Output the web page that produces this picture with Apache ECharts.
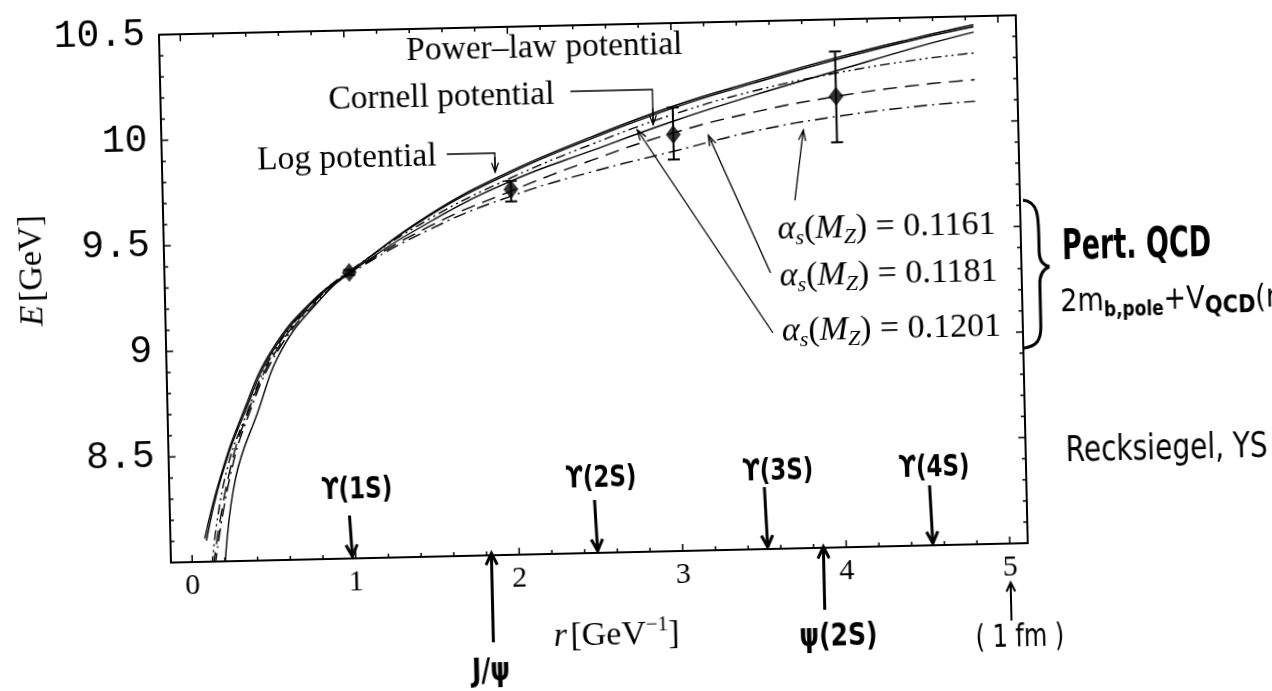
<!DOCTYPE html>
<html>
<head>
<meta charset="utf-8">
<script src="https://cdn.jsdelivr.net/npm/echarts@6/dist/echarts.min.js"></script>
<style>
  html, body { margin: 0; padding: 0; background: #fff; overflow: hidden; }
  #chart { width: 1272px; height: 691px; transform: rotate(-1.3deg); transform-origin: 590px 295px; }
</style>
</head>
<body>
<div id="chart"></div>
<script>
// ---- curves: static energy E(r) [GeV] versus r [GeV^-1] ----
// Log potential
const logR = [0.08, 0.18, 0.33, 0.52, 0.78, 1.0, 1.5, 2.0, 2.5, 3.0, 3.5, 4.0, 4.5, 4.85];
const logE = [8.11, 8.39, 8.70, 9.00, 9.23, 9.355, 9.62, 9.816, 9.97, 10.106, 10.215, 10.317, 10.405, 10.46];
// Power-law potential
const powR = [0.09, 0.19, 0.34, 0.53, 0.79, 1.0, 1.5, 2.0, 2.5, 3.0, 3.5, 4.0, 4.5, 4.85];
const powE = [8.10, 8.40, 8.70, 9.00, 9.23, 9.355, 9.615, 9.808, 9.962, 10.097, 10.207, 10.308, 10.397, 10.45];
// Cornell potential
const corR = [0.20, 0.276, 0.42, 0.58, 0.82, 1.0, 1.5, 2.0, 2.5, 3.0, 3.5, 4.0, 4.5, 4.85];
const corE = [7.97, 8.39, 8.70, 9.00, 9.23, 9.35, 9.585, 9.769, 9.905, 10.035, 10.15, 10.255, 10.36, 10.425];
// perturbative QCD, alpha_s(M_Z) = 0.1201
const qcd1201R = [0.12, 0.21, 0.355, 0.54, 0.79, 1.0, 1.5, 2.0, 2.5, 3.0, 3.5, 4.0, 4.5, 4.85];
const qcd1201E = [7.98, 8.39, 8.70, 9.00, 9.23, 9.36, 9.60, 9.784, 9.935, 10.067, 10.17, 10.245, 10.30, 10.326];
// perturbative QCD, alpha_s(M_Z) = 0.1181
const qcd1181R = [0.13, 0.23, 0.36, 0.55, 0.80, 1.0, 1.5, 2.0, 2.5, 3.0, 3.5, 4.0, 4.5, 4.85];
const qcd1181E = [7.98, 8.39, 8.70, 9.00, 9.23, 9.35, 9.565, 9.722, 9.86, 9.98, 10.07, 10.135, 10.18, 10.199];
// perturbative QCD, alpha_s(M_Z) = 0.1161
const qcd1161R = [0.14, 0.24, 0.37, 0.56, 0.81, 1.0, 1.5, 2.0, 2.5, 3.0, 3.5, 4.0, 4.5, 4.85];
const qcd1161E = [7.98, 8.39, 8.70, 9.00, 9.23, 9.345, 9.55, 9.698, 9.805, 9.893, 9.98, 10.04, 10.08, 10.097];

// ---- points with error bars ----
const levelR = [1.0, 2.0, 3.0, 4.0];
const levelE = [9.354, 9.73, 9.972, 10.135];
const levelErrDown = [0.012, 0.057, 0.118, 0.217];
const levelErrUp = [0.012, 0.040, 0.128, 0.213];

// ---- axes ----
const xTickValues = [0, 1, 2, 3, 4, 5];
const xTickLabels = ['0', '1', '2', '3', '4', '5'];
const yTickValues = [8.5, 9, 9.5, 10, 10.5];
const yTickLabels = ['8.5', '9', '9.5', '10', '10.5'];

// ---- state radii marked along the r axis ----
const bottomoniumNames = ['ϒ(1S)', 'ϒ(2S)', 'ϒ(3S)', 'ϒ(4S)'];
const bottomoniumR = [0.98, 2.48, 3.52, 4.53];
const charmoniumNames = ['J/ψ', 'ψ(2S)', '( 1 fm )'];
const charmoniumR = [1.83, 3.86, 5.0];

const alphaValues = ['0.1161', '0.1181', '0.1201'];

const X_MIN = -0.13, X_MAX = 5.11, Y_MIN = 8.0, Y_MAX = 10.5;
const SERIF = "'Liberation Serif', 'DejaVu Serif', serif";
const MONO = "'Liberation Mono', 'DejaVu Sans Mono', monospace";
const HAND = "'DejaVu Sans', sans-serif";

const zip = (a, b) => a.map((v, i) => [v, b[i]]);

// frame tick positions (minor every 0.2 in r, every 0.1 in E)
const xTicks = [];
for (let i = 0; i <= 25; i++) { const v = +(i * 0.2).toFixed(2); xTicks.push([v, i % 5 === 0 ? 1 : 0]); }
const yTicks = [];
for (let i = 1; i <= 25; i++) { const v = +(8 + i * 0.1).toFixed(2); yTicks.push([v, i % 5 === 0 ? 1 : 0]); }

const chart = echarts.init(document.getElementById('chart'), null, { renderer: 'canvas' });

function curve(name, r, e, dash) {
  return {
    name, type: 'line', data: zip(r, e), showSymbol: false, smooth: 0.45,
    lineStyle: { color: '#000', width: 1.4, type: dash }, z: 3, silent: true
  };
}

const option = {
  animation: false,
  backgroundColor: '#fff',
  grid: { left: 165, right: 250, top: 25, bottom: 138, outerBoundsMode: 'none' },
  xAxis: [
    {
      type: 'value', position: 'bottom', min: X_MIN, max: X_MAX,
      axisLine: { onZero: false, lineStyle: { color: '#000', width: 2 } },
      axisTick: { show: false }, splitLine: { show: false },
      axisLabel: {
        customValues: xTickValues,
        formatter: v => { const i = xTickValues.findIndex(t => Math.abs(t - v) < 1e-6); return i < 0 ? '' : xTickLabels[i]; },
        color: '#000', fontFamily: SERIF, fontSize: 30, margin: 9
      }
    },
    {
      type: 'value', position: 'top', min: X_MIN, max: X_MAX,
      axisLine: { onZero: false, lineStyle: { color: '#000', width: 2 } },
      axisTick: { show: false }, axisLabel: { show: false }, splitLine: { show: false }
    }
  ],
  yAxis: [
    {
      type: 'value', position: 'left', min: Y_MIN, max: Y_MAX,
      axisLine: { onZero: false, lineStyle: { color: '#000', width: 2 } },
      axisTick: { show: false }, splitLine: { show: false },
      axisLabel: {
        customValues: yTickValues,
        formatter: v => { const i = yTickValues.findIndex(t => Math.abs(t - v) < 1e-6); return i < 0 ? '' : yTickLabels[i]; },
        color: '#000', fontFamily: MONO, fontSize: 38, margin: 14
      }
    },
    {
      type: 'value', position: 'right', min: Y_MIN, max: Y_MAX,
      axisLine: { onZero: false, lineStyle: { color: '#000', width: 2 } },
      axisTick: { show: false }, axisLabel: { show: false }, splitLine: { show: false }
    }
  ],
  series: [
    curve('Log potential', logR, logE, 'solid'),
    curve('Power-law potential', powR, powE, 'solid'),
    curve('Cornell potential', corR, corE, 'solid'),
    curve('αs(MZ) = 0.1201', qcd1201R, qcd1201E, [10, 4, 2, 4, 2, 4]),
    curve('αs(MZ) = 0.1181', qcd1181R, qcd1181E, [14, 8]),
    curve('αs(MZ) = 0.1161', qcd1161R, qcd1161E, [13, 5, 2, 5]),
    {
      name: 'error bars', type: 'custom', silent: true, z: 4,
      data: levelR.map((r, i) => [r, levelE[i] - levelErrDown[i], levelE[i] + levelErrUp[i]]),
      encode: { x: 0, y: [1, 2] },
      renderItem: (params, api) => {
        const lo = api.coord([api.value(0), api.value(1)]);
        const hi = api.coord([api.value(0), api.value(2)]);
        const w = 6, st = { stroke: '#000', lineWidth: 2 };
        return {
          type: 'group', children: [
            { type: 'line', shape: { x1: lo[0], y1: lo[1], x2: hi[0], y2: hi[1] }, style: st },
            { type: 'line', shape: { x1: lo[0] - w, y1: lo[1], x2: lo[0] + w, y2: lo[1] }, style: st },
            { type: 'line', shape: { x1: hi[0] - w, y1: hi[1], x2: hi[0] + w, y2: hi[1] }, style: st }
          ]
        };
      }
    },
    {
      name: 'levels', type: 'scatter', data: zip(levelR, levelE), symbol: 'diamond', symbolSize: [15, 19],
      itemStyle: { color: '#000' }, z: 5, silent: true
    },
    {
      name: 'r ticks', type: 'custom', silent: true, clip: false, z: 2,
      data: xTicks, encode: { x: 0, y: 1 },
      renderItem: (params, api) => {
        const v = api.value(0), len = api.value(1) ? 7 : 4;
        const b = api.coord([v, Y_MIN]), t = api.coord([v, Y_MAX]);
        const st = { stroke: '#000', lineWidth: 1.5 };
        return {
          type: 'group', children: [
            { type: 'line', shape: { x1: b[0], y1: b[1], x2: b[0], y2: b[1] - len }, style: st },
            { type: 'line', shape: { x1: t[0], y1: t[1], x2: t[0], y2: t[1] + len }, style: st }
          ]
        };
      }
    },
    {
      name: 'E ticks', type: 'custom', silent: true, clip: false, z: 2,
      data: yTicks.map(d => [X_MIN, d[0], d[1]]), encode: { x: 0, y: 1 },
      renderItem: (params, api) => {
        const v = api.value(1), len = api.value(2) ? 7 : 4;
        const l = api.coord([X_MIN, v]), r = api.coord([X_MAX, v]);
        const st = { stroke: '#000', lineWidth: 1.5 };
        return {
          type: 'group', children: [
            { type: 'line', shape: { x1: l[0], y1: l[1], x2: l[0] + len, y2: l[1] }, style: st },
            { type: 'line', shape: { x1: r[0], y1: r[1], x2: r[0] - len, y2: r[1] }, style: st }
          ]
        };
      }
    }
  ]
};
chart.setOption(option);

// ---- annotations ----
const P = (r, e) => chart.convertToPixel({ gridIndex: 0 }, [r, e]);

function arrow(x1, y1, x2, y2, w, head, spread) {
  const a = Math.atan2(y2 - y1, x2 - x1);
  const h1 = [x2 - head * Math.cos(a - spread), y2 - head * Math.sin(a - spread)];
  const h2 = [x2 - head * Math.cos(a + spread), y2 - head * Math.sin(a + spread)];
  return [
    { type: 'line', silent: true, shape: { x1, y1, x2, y2 }, style: { stroke: '#000', lineWidth: w } },
    { type: 'polyline', silent: true, shape: { points: [h1, [x2, y2], h2] }, style: { stroke: '#000', lineWidth: w, fill: null } }
  ];
}
function text(x, y, str, font, extra) {
  return Object.assign({
    type: 'text', silent: true, x, y,
    style: Object.assign({ text: str, fill: '#000', align: 'center', verticalAlign: 'middle' }, font)
  }, extra || {});
}
function bezier(p0, c1, c2, p1, w) {
  return {
    type: 'bezierCurve', silent: true,
    shape: { x1: p0[0], y1: p0[1], cpx1: c1[0], cpy1: c1[1], cpx2: c2[0], cpy2: c2[1], x2: p1[0], y2: p1[1] },
    style: { stroke: '#000', lineWidth: w, fill: null }
  };
}
const serifLabel = { fontFamily: SERIF, fontSize: 33.5 };
const mathRich = {
  n: { fontFamily: SERIF, fontSize: 34 },
  i: { fontFamily: SERIF, fontSize: 34, fontStyle: 'italic' },
  s: { fontFamily: SERIF, fontSize: 22, fontStyle: 'italic', padding: [19, 0, 0, 0] },
  sup: { fontFamily: SERIF, fontSize: 21, padding: [0, 0, 19, 0] }
};

const g = [];
// potential labels
g.push(text(550, 47, 'Power–law potential', serifLabel));
g.push(text(446, 94, 'Cornell potential', serifLabel));
g.push({ type: 'polyline', silent: true, shape: { points: [[575, 91], [657, 91], [657, 124]] }, style: { stroke: '#000', lineWidth: 1.3, fill: null } });
g.push(...arrow(657, 110, 657, 126, 1.3, 10, 0.35));
g.push(text(350, 153, 'Log potential', serifLabel));
g.push({ type: 'polyline', silent: true, shape: { points: [[450, 151], [498, 151], [498, 168]] }, style: { stroke: '#000', lineWidth: 1.3, fill: null } });
g.push(...arrow(498, 155, 498, 170, 1.3, 10, 0.35));

// alpha_s labels and pointers
const alphaPos = [[779, 234], [780, 281], [781, 336]];
const alphaArrows = [[797, 205, 807, 135], [771, 277, 712, 138], [772, 337, 641, 131]];
alphaValues.forEach((v, i) => {
  g.push({
    type: 'text', silent: true, x: alphaPos[i][0], y: alphaPos[i][1],
    style: { text: '{i|α}{s|s}{n|(}{i|M}{s|Z}{n|) = ' + v + '}', rich: mathRich, align: 'left', verticalAlign: 'middle', fill: '#000' }
  });
  const a = alphaArrows[i];
  g.push(...arrow(a[0], a[1], a[2], a[3], 1.3, 11, 0.33));
});

// brace grouping the three perturbative curves
g.push(bezier([1025, 210], [1040, 212], [1040, 226], [1040, 246], 3));
g.push({ type: 'line', silent: true, shape: { x1: 1040, y1: 246, x2: 1040, y2: 262 }, style: { stroke: '#000', lineWidth: 3 } });
g.push(bezier([1040, 262], [1040, 272], [1045, 276], [1050, 277], 3));
g.push(bezier([1050, 277], [1045, 279], [1040, 284], [1040, 294], 3));
g.push({ type: 'line', silent: true, shape: { x1: 1040, y1: 294, x2: 1040, y2: 336 }, style: { stroke: '#000', lineWidth: 3 } });
g.push(bezier([1040, 336], [1040, 350], [1036, 356], [1023, 358], 3));

// handwritten notes on the right
g.push(text(1063, 259, 'Pert. QCD', { fontFamily: HAND, fontSize: 27, fontWeight: 'bold', align: 'left' }, { scaleY: 1.6 }));
g.push({
  type: 'text', silent: true, x: 1060, y: 314, scaleY: 1.2,
  style: {
    text: '{n|2m}{s|b,pole}{n|+V}{q|QCD}{n|(r)}', align: 'left', verticalAlign: 'middle', fill: '#000',
    rich: {
      n: { fontFamily: HAND, fontSize: 27 },
      s: { fontFamily: HAND, fontSize: 17, fontWeight: 'bold', padding: [14, 0, 0, 0] },
      q: { fontFamily: HAND, fontSize: 21, fontWeight: 'bold', padding: [10, 0, 0, 0] }
    }
  }
});
g.push(text(1062, 463, 'Recksiegel, YS', { fontFamily: HAND, fontSize: 28, align: 'left' }, { scaleY: 1.25 }));

// bottomonium radii (down arrows inside the frame)
const axisY = P(0, Y_MIN)[1];
const upsLayout = [
  { dx: 6, textUp: 68, tailUp: 43 },
  { dx: 5, textUp: 74, tailUp: 53 },
  { dx: 12, textUp: 77, tailUp: 62 },
  { dx: 3, textUp: 77, tailUp: 60 }
];
bottomoniumNames.forEach((name, i) => {
  const x = P(bottomoniumR[i], Y_MIN)[0];
  const L = upsLayout[i];
  g.push(text(x + L.dx, axisY - L.textUp, name, { fontFamily: HAND, fontSize: 23, fontWeight: 'bold' }, { scaleY: 1.3 }));
  g.push(...arrow(x - 2, axisY - L.tailUp, x, axisY - 2, 3, 13, 0.45));
});

// charmonium radii and 1 fm (up arrows below the axis)
const charmLayout = [
  { tail: 640, tip: 551, textY: 670, dx: -3 },
  { tail: 615, tip: 552, textY: 643, dx: 13 },
  { tail: 630, tip: 592, textY: 648, dx: 8 }
];
charmoniumNames.forEach((name, i) => {
  const x = P(charmoniumR[i], Y_MIN)[0];
  const L = charmLayout[i];
  const bold = i < 2;
  g.push(text(x + L.dx, L.textY, name, { fontFamily: HAND, fontSize: bold ? 25 : 24, fontWeight: bold ? 'bold' : 'normal' }, { scaleY: 1.3 }));
  g.push(...arrow(x, L.tail, x, L.tip, bold ? 3 : 2, bold ? 13 : 10, 0.45));
});

// axis titles
g.push({
  type: 'text', silent: true, x: 33, y: 258, rotation: Math.PI / 2,
  style: { text: '{i|E} {n|[GeV]}', rich: mathRich, align: 'center', verticalAlign: 'middle', fill: '#000' }
});
g.push({
  type: 'text', silent: true, x: 609, y: 636,
  style: { text: '{i|r} {n|[GeV}{sup|−1}{n|]}', rich: mathRich, align: 'center', verticalAlign: 'middle', fill: '#000' }
});

chart.setOption({ graphic: { elements: g } });
</script>
</body>
</html>
